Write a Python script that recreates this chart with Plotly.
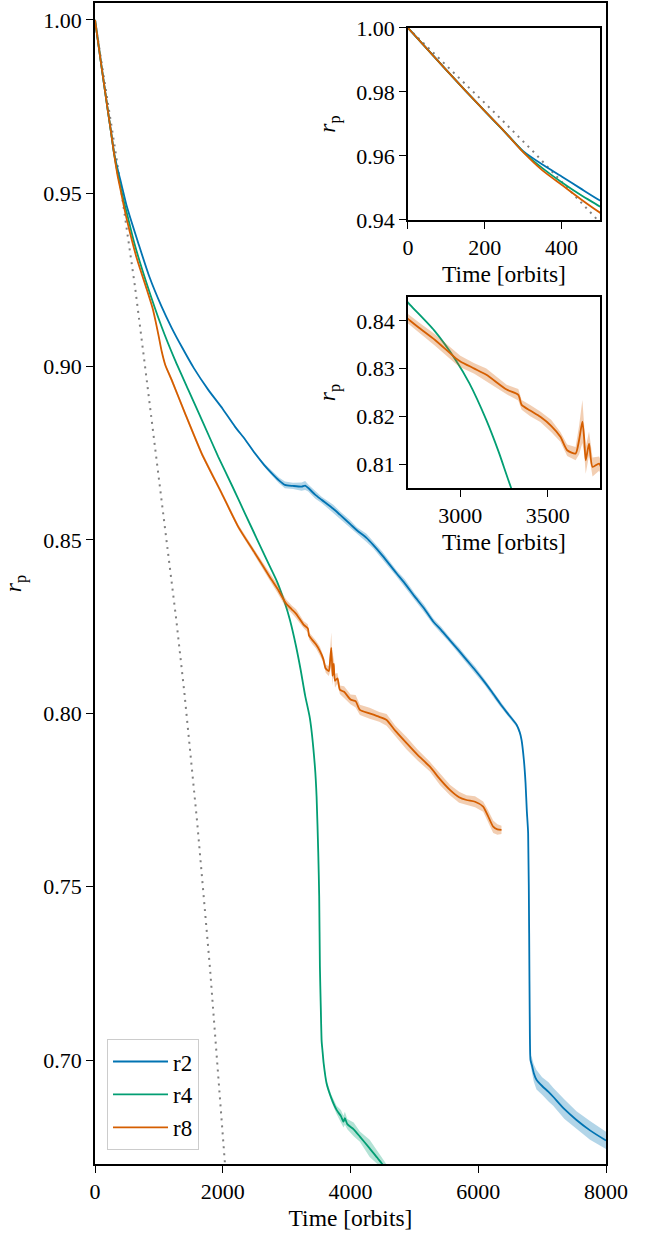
import plotly.graph_objects as go

# ---------------- data ----------------
# r2 run
B_T = [0, 100, 200, 250, 300, 350, 400, 450, 500, 678, 850, 1043, 1200, 1356, 1550, 1774, 2000, 2191, 2350,
       2504, 2650, 2765, 2880, 2973, 3100, 3234, 3290, 3339, 3450, 3547, 3730, 3834, 4000, 4100, 4250,
       4355, 4500, 4720, 4850, 5000, 5150, 5294, 5420, 5550, 5700, 5817, 5950, 6100, 6220, 6338, 6450,
       6600, 6650, 6678, 6714, 6740, 6760, 6781, 6797, 6808, 6818, 6840, 6870, 6912, 7000, 7100, 7173,
       7350, 7538, 7750, 7981, 8000]
B_R = [1.0, 0.9868, 0.9740, 0.9678, 0.9615, 0.9573, 0.9536, 0.9498, 0.9461, 0.9356, 0.9260, 0.9173, 0.9112,
       0.9058, 0.8995, 0.8933, 0.8878, 0.8827, 0.8790, 0.8750, 0.8716, 0.8693, 0.8672, 0.8659, 0.8656,
       0.8654, 0.8657, 0.8650, 0.8630, 0.8616, 0.8590, 0.8573, 0.8545, 0.8528, 0.8506, 0.8486, 0.8455,
       0.8404, 0.8375, 0.8338, 0.8303, 0.8265, 0.8240, 0.8212, 0.8180, 0.8154, 0.8125, 0.8090, 0.8060,
       0.8029, 0.8002, 0.7967, 0.7945, 0.7923, 0.7866, 0.7800, 0.7720, 0.7654, 0.7366, 0.7077, 0.7000,
       0.6985, 0.6962, 0.6943, 0.6925, 0.6908, 0.6894, 0.6858, 0.6827, 0.6797, 0.6770, 0.6768]
B_E = [0, 0, 0, 0, 0, 0, 0, 0, 0, 0, 0, 0, 0, 0, 0, 0, 0, 0.0002, 0.0003, 0.0004, 0.0005, 0.0006,
       0.0008, 0.0010, 0.0009, 0.0012, 0.0013, 0.0010, 0.0011, 0.0009, 0.0012, 0.0010, 0.0011, 0.0009,
       0.0012, 0.0010, 0.0011, 0.0009, 0.0012, 0.0010, 0.0011, 0.0009, 0.0010, 0.0008, 0.0010, 0.0009,
       0.0010, 0.0008, 0.0009, 0.0008, 0.0007, 0.0006, 0.0004, 0.0003, 0.0002, 0.0001, 0.0001, 0.0001,
       0.0001, 0.0005, 0.0015, 0.0022, 0.0025, 0.0028, 0.0025, 0.0028, 0.0026, 0.0028, 0.0025, 0.0027,
       0.0025, 0.0025]

# r4 run
G_T = [0, 100, 200, 250, 300, 350, 400, 450, 500, 616, 800, 1043, 1250, 1461, 1700, 1930, 2150, 2347, 2530,
       2713, 2850, 2973, 3052, 3149, 3220, 3290, 3365, 3443, 3469, 3495, 3510, 3521, 3535, 3547, 3552,
       3560, 3580, 3625, 3700, 3782, 3850, 3890, 3912, 3950, 4050, 4147, 4300, 4420, 4487, 4560]
G_R = [1.0, 0.9868, 0.9740, 0.9678, 0.9613, 0.9562, 0.9518, 0.9478, 0.9442, 0.9356, 0.9245, 0.9115, 0.9020,
       0.8933, 0.8835, 0.8740, 0.8655, 0.8577, 0.8505, 0.8433, 0.8380, 0.8318, 0.8269, 0.8192, 0.8125,
       0.8051, 0.7985, 0.7846, 0.7760, 0.7600, 0.7471, 0.7270, 0.7150, 0.7058, 0.7045, 0.7030, 0.6990,
       0.6933, 0.6890, 0.6856, 0.6838, 0.6822, 0.6832, 0.6815, 0.6800, 0.6779, 0.6745, 0.6718, 0.6702,
       0.6685]
G_E = [0, 0, 0, 0, 0, 0, 0, 0, 0, 0, 0, 0, 0, 0, 0, 0, 0, 0, 0, 0, 0, 0, 0, 0, 0, 0, 0, 0, 0, 0, 0,
       0, 0, 0.0003, 0.0004, 0.0004, 0.0005, 0.0008, 0.0010, 0.0012, 0.0018, 0.0017, 0.0019, 0.0015,
       0.0020, 0.0015, 0.0025, 0.0018, 0.0015, 0.0015]

# r8 run
O_T = [0, 100, 200, 250, 300, 350, 400, 450, 500, 650, 809, 900, 950, 1000, 1043, 1100, 1200, 1408, 1669,
       1982, 2243, 2504, 2700, 2765, 2855, 2973, 3000, 3080, 3149, 3265, 3332, 3351, 3400, 3458, 3520,
       3573, 3612, 3660, 3680, 3699, 3710, 3718, 3737, 3757, 3795, 3834, 3900, 4000, 4080, 4147, 4300,
       4450, 4565, 4700, 4878, 5050, 5243, 5400, 5556, 5700, 5817, 5950, 6077, 6150, 6234, 6300, 6364]
O_R = [1.0, 0.9868, 0.9740, 0.9678, 0.9612, 0.9555, 0.9510, 0.9465, 0.9423, 0.9315, 0.9224, 0.9170, 0.9130,
       0.9085, 0.9045, 0.9005, 0.8962, 0.8866, 0.8750, 0.8635, 0.8538, 0.8462, 0.8404, 0.8385, 0.8360,
       0.8322, 0.8315, 0.8300, 0.8287, 0.8256, 0.8245, 0.8224, 0.8212, 0.8199, 0.8180, 0.8157, 0.8129,
       0.8122, 0.8150, 0.8189, 0.8150, 0.8108, 0.8143, 0.8094, 0.8101, 0.8068, 0.8062, 0.8040, 0.8035,
       0.8010, 0.8000, 0.7990, 0.7981, 0.7950, 0.7914, 0.7880, 0.7846, 0.7810, 0.7779, 0.7758, 0.7750,
       0.7745, 0.7731, 0.7705, 0.7673, 0.7665, 0.7664]
O_E = [0, 0, 0, 0, 0, 0, 0, 0, 0, 0, 0, 0.0001, 0.0002, 0.0003, 0.0004, 0.0005, 0.0007, 0.0006, 0.0007,
       0.0006, 0.0007, 0.0008, 0.0010, 0.0011, 0.0012, 0.0012, 0.0012, 0.0011, 0.0013, 0.0010, 0.0012,
       0.0010, 0.0012, 0.0011, 0.0013, 0.0010, 0.0012, 0.0014, 0.0030, 0.0045, 0.0030, 0.0028, 0.0025,
       0.0020, 0.0015, 0.0012, 0.0016, 0.0014, 0.0018, 0.0015, 0.0016, 0.0014, 0.0017, 0.0015, 0.0018,
       0.0016, 0.0014, 0.0017, 0.0015, 0.0016, 0.0014, 0.0016, 0.0015, 0.0017, 0.0018, 0.0015, 0.0012]

# analytic reference (dotted)
D_T = [0, 100, 230, 326, 430, 496, 626, 782, 991, 1148, 1268, 1400, 1600, 1800, 2000, 2060]
D_R = [1.0, 0.9883, 0.9730, 0.9614, 0.9483, 0.9400, 0.9231, 0.9003, 0.8691, 0.8465, 0.8277, 0.8058,
       0.7685, 0.7265, 0.6790, 0.6640]

SERIES = [("r2", B_T, B_R, B_E, "#0173B2", "rgba(1,115,178,0.3)"),
          ("r4", G_T, G_R, G_E, "#029E73", "rgba(2,158,115,0.3)"),
          ("r8", O_T, O_R, O_E, "#D55E00", "rgba(213,94,0,0.3)")]

X_TICKS_MAIN = [0, 2000, 4000, 6000, 8000]
Y_TICKS_MAIN = [0.70, 0.75, 0.80, 0.85, 0.90, 0.95, 1.00]
X_TICKS_IN1 = [0, 200, 400]
Y_TICKS_IN1 = [0.94, 0.96, 0.98, 1.00]
X_TICKS_IN2 = [3000, 3500]
Y_TICKS_IN2 = [0.81, 0.82, 0.83, 0.84]

# ---------------- figure ----------------
FONT = "Liberation Serif"
FS = 22
FT = 23.5
fig = go.Figure()

panels = [("x", "y"), ("x2", "y2"), ("x3", "y3")]
for pi, (xa, ya) in enumerate(panels):
    fig.add_trace(go.Scatter(x=D_T, y=D_R, mode="lines", xaxis=xa, yaxis=ya,
                             line=dict(color="gray", width=2, dash="2px,5px"),
                             showlegend=False, hoverinfo="skip"))
    for name, t, r, e, col, fcol in SERIES:
        up = [ri + ei for ri, ei in zip(r, e)]
        lo = [ri - ei for ri, ei in zip(r, e)]
        fig.add_trace(go.Scatter(x=list(t) + list(t)[::-1], y=up + lo[::-1], mode="lines",
                                 fill="toself", fillcolor=fcol, line=dict(width=0),
                                 xaxis=xa, yaxis=ya, showlegend=False, hoverinfo="skip"))
        fig.add_trace(go.Scatter(x=t, y=r, mode="lines", name=name, xaxis=xa, yaxis=ya,
                                 line=dict(color=col, width=1.8, shape="spline", smoothing=0.6),
                                 showlegend=(pi == 0)))

axis_common = dict(showline=True, linecolor="black", linewidth=1.5, mirror=True,
                   ticks="outside", ticklen=7, tickwidth=1.3, tickcolor="black",
                   showgrid=False, zeroline=False, automargin=False,
                   tickfont=dict(family=FONT, size=FS, color="black"))
title_font = dict(family=FONT, size=FT, color="black")
ytitle = "<i>r</i><sub>p</sub>"

in_x = [0.6125, 0.9883]
in1_y = [0.8131, 0.9785]
in2_y = [0.5823, 0.7468]

fig.update_layout(
    width=652, height=1234,
    margin=dict(l=95, r=46, t=3, b=70),
    paper_bgcolor="white", plot_bgcolor="white",
    font=dict(family=FONT, size=FS, color="black"),
    xaxis=dict(axis_common, domain=[0, 1], range=[0, 8000], tickvals=X_TICKS_MAIN,
               title=dict(text="Time [orbits]", font=title_font, standoff=6)),
    yaxis=dict(axis_common, domain=[0, 1], range=[0.670, 1.0049], tickvals=Y_TICKS_MAIN,
               tickformat=".2f", title=dict(text=ytitle, font=title_font, standoff=20)),
    xaxis2=dict(axis_common, domain=in_x, anchor="y2", range=[0, 500], tickvals=X_TICKS_IN1,
                title=dict(text="Time [orbits]", font=title_font, standoff=6)),
    yaxis2=dict(axis_common, domain=in1_y, anchor="x2", range=[0.94, 1.0], tickvals=Y_TICKS_IN1,
                tickformat=".2f", title=dict(text=ytitle, font=title_font, standoff=14)),
    xaxis3=dict(axis_common, domain=in_x, anchor="y3", range=[2700, 3800], tickvals=X_TICKS_IN2,
                title=dict(text="Time [orbits]", font=title_font, standoff=6)),
    yaxis3=dict(axis_common, domain=in2_y, anchor="x3", range=[0.805, 0.845], tickvals=Y_TICKS_IN2,
                tickformat=".2f", title=dict(text=ytitle, font=title_font, standoff=14)),
    legend=dict(x=0.0235, y=0.012, xanchor="left", yanchor="bottom", itemwidth=55,
                bgcolor="rgba(255,255,255,0.8)", bordercolor="#cccccc", borderwidth=1,
                font=dict(family=FONT, size=23, color="black")),
    showlegend=True,
)

fig.write_html("out.html", config={"displayModeBar": False},
               post_script="document.body.style.margin='0';")
